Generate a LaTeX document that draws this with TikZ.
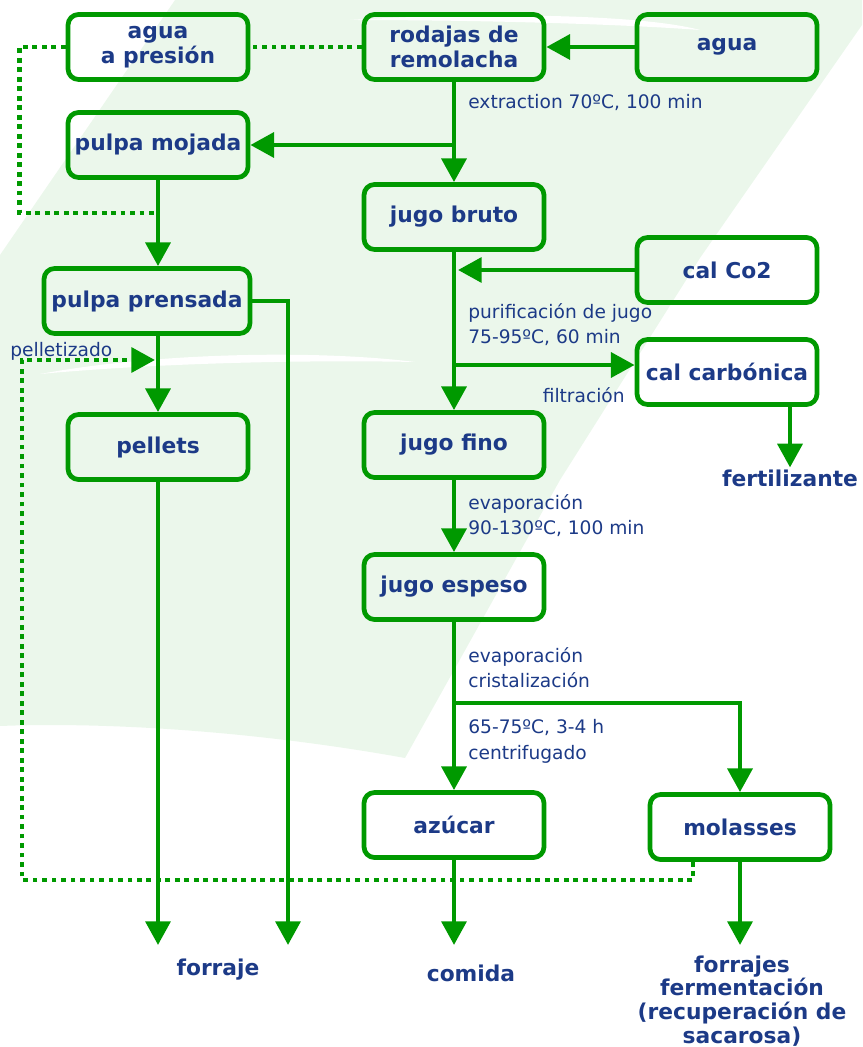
\documentclass[tikz,border=0pt]{standalone}
\usepackage{fontspec}
\setmainfont{DejaVu Sans}
\usetikzlibrary{arrows.meta}
\definecolor{sugreen}{RGB}{0,153,0}
\definecolor{sublue}{RGB}{28,58,135}
\definecolor{sutint}{RGB}{235,247,235}

\begin{document}
\begin{tikzpicture}[x=0.02cm, y=-0.02cm,
  every node/.style={text=sublue},
  stage/.style={draw=sugreen, line width=2.7pt, rounded corners=6pt, minimum width=3.6cm,
    minimum height=1.3cm, align=center, inner sep=1pt, font=\bfseries\fontsize{12.4}{14}\selectfont},
  flow/.style={draw=sugreen, line width=2.7pt, -{Triangle[length=13.5pt,width=14pt]}},
  recycle/.style={draw=sugreen, line width=2.7pt, dash pattern=on 2.7pt off 2.7pt},
  note/.style={font=\fontsize{10.6}{14.6}\selectfont, align=left, anchor=north west, inner sep=0pt},
  sink/.style={font=\bfseries\fontsize{12.4}{13.6}\selectfont, align=center, inner sep=1pt}
]
  \useasboundingbox (0,0) rectangle (862,1047);
  \def\colA{158}\def\colB{454}\def\colC{727}

  % watermark
  \fill[sutint] (175,0) -- (862,0) -- (862,25) -- (700,258) -- (560,480) -- (405,758)
    .. controls (250,730) and (100,722) .. (0,726) -- (0,255) -- cycle;
  \fill[white] (40,374) .. controls (160,352) and (320,350) .. (415,362)
    .. controls (320,360) and (170,362) .. (40,374);
  \fill[white] (350,20) .. controls (480,12) and (640,14) .. (700,30)
    .. controls (620,24) and (480,20) .. (350,20);

  % stages
  \node[stage] (presion)   at (\colA,47)  {agua\\a presión};
  \node[stage] (rodajas)   at (\colB,47)  {rodajas de\\remolacha};
  \node[stage] (agua)      at (\colC,47)  {agua};
  \node[stage] (mojada)    at (\colA,145) {pulpa mojada};
  \node[stage] (bruto)     at (\colB,217) {jugo bruto};
  \node[stage] (calco)     at (\colC,270) {cal Co2};
  \node[stage, minimum width=4.12cm] (prensada) at (147,301) {pulpa prensada};
  \node[stage] (carbonica) at (\colC,372) {cal carbónica};
  \node[stage] (pellets)   at (\colA,447) {pellets};
  \node[stage] (fino)      at (\colB,445) {jugo fino};
  \node[stage] (espeso)    at (\colB,587) {jugo espeso};
  \node[stage] (azucar)    at (\colB,825) {azúcar};
  \node[stage] (molasses)  at (740,827)   {molasses};

  % end products
  \node[sink] (fert)     at (790,478)  {fertilizante};
  \node[sink] (forraje)  at (218,970)  {forraje};
  \node[sink] (comida)   at (471,973)  {comida};
  \node[sink] (forrajes) at (742,1001) {forrajes\\fermentación\\(recuperación de\\sacarosa)};

  % process notes
  \node[note] (extr)  at (468,94)  {extraction 70ºC, 100 min};
  \node[note] (puri)  at (468,303) {purificación de jugo\\75-95ºC, 60 min};
  \node[note, anchor=north east] (filt) at (625,387) {filtración};
  \node[note] (evap)  at (468,494) {evaporación\\90-130ºC, 100 min};
  \node[note] (crist) at (468,647) {evaporación\\cristalización};
  \node[note] (centr) at (468,719) {65-75ºC, 3-4 h\\centrifugado};
  \node[note] (pellz) at (10,342)  {pelletizado};

  % branch points
  \coordinate (pulpout)  at (\colB,145);
  \coordinate (limein)   at (458,270);
  \coordinate (filtout)  at (\colB,365);
  \coordinate (cristout) at (\colB,703);
  \coordinate (wetjoin)  at (\colA,213);
  \coordinate (pelletin) at (155,360);
  \coordinate (molout)   at (693,862);
  \coordinate (feedA)    at (\colA,945);
  \coordinate (feedB)    at (288,945);
  \coordinate (foodend)  at (\colB,945);
  \coordinate (fermend)  at (740,945);

  % juice line
  \draw[flow] (agua) -- (rodajas);
  \draw[flow] (rodajas) -- (bruto);
  \draw[flow] (pulpout) -- (mojada);
  \draw[flow] (bruto) -- (fino);
  \draw[flow] (calco) -- (limein);
  \draw[flow] (filtout) -- (filtout -| carbonica.west);
  \draw[flow] (fert |- carbonica.south) -- (fert.north);
  \draw[flow] (fino) -- (espeso);
  \draw[flow] (espeso) -- (azucar);
  \draw[flow] (cristout) -| (molasses);
  \draw[flow] (azucar) -- (foodend);
  \draw[flow] (molasses) -- (fermend);

  % pulp line
  \draw[flow] (mojada) -- (mojada |- prensada.north);
  \draw[flow] (prensada.south -| pellets) -- (pellets);
  \draw[flow] (prensada.east) -| (feedB);
  \draw[flow] (pellets) -- (feedA);

  % recycled streams
  \draw[recycle] (rodajas.west) -- (presion.east);
  \draw[recycle] (presion.west) -- ++(-46,0) |- (wetjoin);
  \draw[recycle, -{Triangle[length=13.5pt,width=14pt]}] (molout) -- ++(0,18) -| (22,360) -- (pelletin);
\end{tikzpicture}
\end{document}
